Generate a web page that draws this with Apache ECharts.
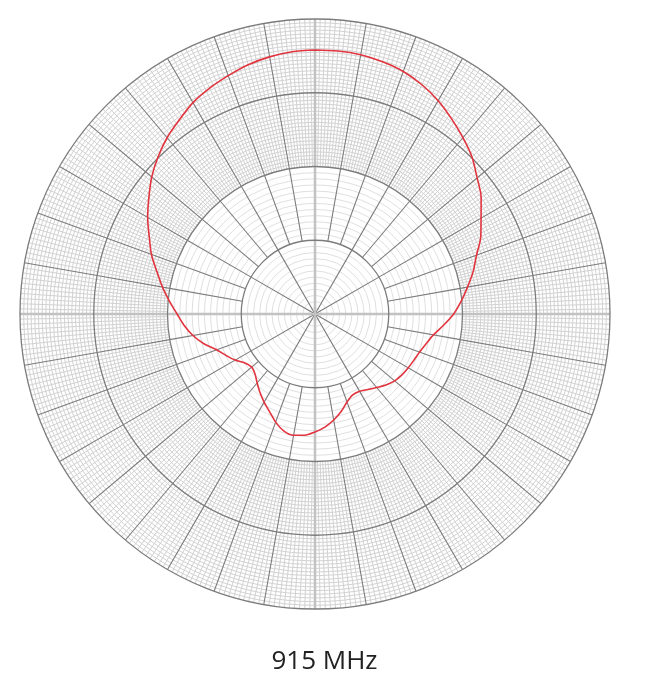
<!DOCTYPE html>
<html>
<head>
<meta charset="utf-8">
<script src="https://cdn.jsdelivr.net/npm/echarts@6/dist/echarts.min.js"></script>
<style>
html,body{margin:0;padding:0;background:#fff;}
#chart{width:649px;height:683px;}
</style>
</head>
<body>
<div id="chart"></div>
<script>
// Angle in degrees (0 = top, clockwise)
const angles = [0,5,10,15,20,25,30,35,40,45,50,55,60,65,70,75,80,85,90,95,100,105,110,115,120,125,130,135,140,145,150,155,160,165,170,175,180,185,190,195,200,205,210,215,220,225,230,235,240,245,250,255,260,265,270,275,280,285,290,295,300,305,310,315,320,325,330,335,340,345,350,355];
// Gain in dB
const gainDb = [-4.2,-4.2,-4.3,-4.6,-5.0,-5.7,-6.6,-7.7,-8.8,-9.9,-11.3,-12.5,-14.0,-15.2,-16.7,-17.8,-19.0,-20.1,-21.2,-22.5,-23.7,-24.4,-24.9,-25.2,-25.4,-25.6,-25.9,-26.4,-27.0,-27.5,-27.9,-27.9,-27.3,-26.3,-25.4,-24.6,-24.0,-23.5,-23.3,-23.6,-24.4,-25.4,-26.2,-27.0,-27.8,-28.5,-28.8,-28.4,-27.5,-26.7,-25.8,-24.4,-23.2,-22.2,-21.3,-20.2,-19.0,-17.8,-16.4,-15.2,-13.8,-12.5,-11.1,-9.9,-8.8,-7.9,-6.9,-6.2,-5.6,-5.0,-4.6,-4.3];
// Ring boundaries (dB)
const ringLevels = [-40,-30,-20,-10,0];
const titleText = '915 MHz';

const chart = echarts.init(document.getElementById('chart'));
const C = [315, 314];
const R = 295;
const step = R / 4;
const major = '#7c7c7c';

const polar = [];
const angleAxis = [];
const radiusAxis = [];

function band(i, opts) {
  polar.push({center: C, radius: [step * i, step * (i + 1)]});
  angleAxis.push({
    polarIndex: i, type: 'value', min: 0, max: 360, interval: opts.spoke,
    startAngle: 90, clockwise: true, z: 2,
    axisLine: {show: false}, axisTick: {show: false}, axisLabel: {show: false},
    splitLine: {show: true, lineStyle: {color: major, width: 1.1}},
    minorTick: {show: false, splitNumber: opts.minorAngle || 5},
    minorSplitLine: {show: !!opts.minorAngle, lineStyle: {color: opts.minorColor, width: 1}}
  });
  radiusAxis.push({
    polarIndex: i, type: 'value', min: ringLevels[i], max: ringLevels[i + 1], interval: 10, z: 1,
    axisLine: {show: false}, axisTick: {show: false}, axisLabel: {show: false},
    splitLine: {show: false},
    minorTick: {show: false, splitNumber: opts.minorRadius},
    minorSplitLine: {show: true, lineStyle: {color: opts.minorColor, width: 1}}
  });
}
band(0, {spoke: 30, minorRadius: 12, minorColor: '#e0e0e0'});
band(1, {spoke: 10, minorRadius: 12, minorColor: '#e0e0e0'});
band(2, {spoke: 10, minorAngle: 10, minorRadius: 20, minorColor: '#d2d2d2'});
band(3, {spoke: 10, minorAngle: 10, minorRadius: 20, minorColor: '#d2d2d2'});

// full polar: cardinal axes, major rings, data
polar.push({center: C, radius: [0, R]});
angleAxis.push({
  polarIndex: 4, type: 'value', min: 0, max: 360, interval: 90, startAngle: 90, clockwise: true, z: 3,
  axisLine: {show: false}, axisTick: {show: false}, axisLabel: {show: false},
  splitLine: {show: true, lineStyle: {color: '#c2c2c2', width: 2.5}}
});
radiusAxis.push({
  polarIndex: 4, type: 'value', min: ringLevels[0], max: ringLevels[4], interval: 10, z: 4,
  axisLine: {show: false}, axisTick: {show: false}, axisLabel: {show: false},
  splitLine: {show: true, lineStyle: {color: major, width: 1.3}}
});

const data = angles.map((a, i) => [gainDb[i], a]);
data.push([gainDb[0], 360]);

chart.setOption({
  animation: false,
  backgroundColor: '#ffffff',
  title: {
    text: titleText, left: 'center', top: 644,
    textStyle: {fontFamily: 'Open Sans', fontSize: 26, fontWeight: 'normal', color: '#222'}
  },
  polar, angleAxis, radiusAxis,
  series: [{
    type: 'line', coordinateSystem: 'polar', polarIndex: 4, z: 10,
    data, smooth: 0.3, showSymbol: false, symbol: 'none',
    lineStyle: {color: '#e2343e', width: 1.6}
  }]
});
</script>
</body>
</html>
